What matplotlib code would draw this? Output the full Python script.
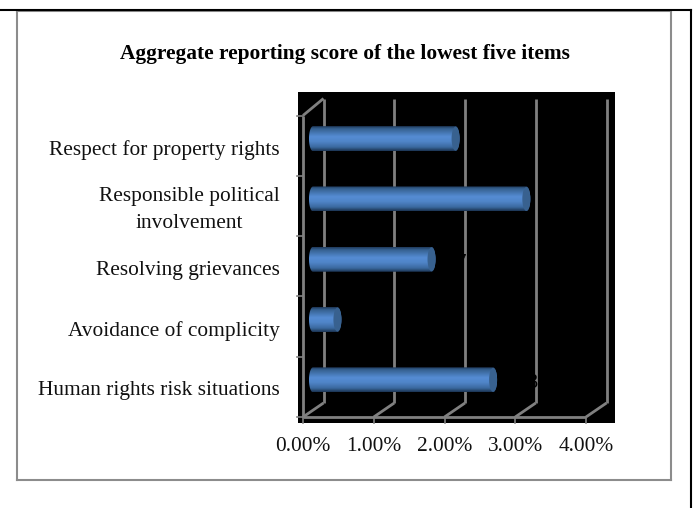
import numpy as np
import matplotlib
matplotlib.use("Agg")
import matplotlib.pyplot as plt
from matplotlib.colors import LinearSegmentedColormap
from matplotlib.lines import Line2D
from matplotlib.patches import Ellipse, PathPatch
from matplotlib.path import Path
from matplotlib.transforms import Affine2D

plt.rcParams["font.family"] = ["Liberation Serif", "DejaVu Serif"]

# Chart content
title = "Aggregate reporting score of the lowest five items"
categories = [
    "Human rights risk situations",
    "Avoidance of complicity",
    "Resolving grievances",
    "Responsible political\ninvolvement",
    "Respect for property rights",
]
scores = [2.63, 0.43, 1.76, 3.10, 2.10]
label_gaps = [4, None, 5, None, None]
value_ticks = [0, 1, 2, 3, 4]

W, H = 694, 508
GRID = "#808080"
PX_X = 70.75   # pixels per percentage point
PX_Y = 60.3    # pixels per category band
TEXT_SIZE = 15.4

fig = plt.figure(figsize=(W / 100, H / 100), dpi=100, facecolor="white")
L, R, T, B = 298, 615, 92, 423
ax = fig.add_axes([L / W, 1 - B / H, (R - L) / W, (B - T) / H], facecolor="black")
for s in ax.spines.values():
    s.set_visible(False)

xmin, xmax = (L - 303) / PX_X, (R - 303) / PX_X
ymin, ymax = -0.5 - (B - 417) / PX_Y, -0.5 + (417 - T) / PX_Y

# Pseudo-3D offsets from the front plane to the back wall
dx = 20.5 / PX_X
dy_floor = 14 / PX_Y
dy_top = 17 / PX_Y
top = len(categories) - 0.5
floor = -0.5
line = dict(color=GRID, lw=2.0, solid_capstyle="butt", zorder=1)

for v in value_ticks:
    ax.plot([v + dx, v + dx], [floor + dy_floor, top + dy_top], **line)
    ax.plot([v, v + dx], [floor, floor + dy_floor], **line)
ax.plot([value_ticks[0], value_ticks[-1]], [floor, floor], **line)
ax.plot([0, 0], [floor, top], **line)
ax.plot([0, dx], [top, top + dy_top], **line)

# Small tick marks on the front plane
tick_x = 6 / PX_X
tick_y = 6 / PX_Y
for y in np.arange(floor, top + 0.5):
    ax.plot([-tick_x, 0], [y, y], color=GRID, lw=1.2, zorder=1, clip_on=False)
for v in value_ticks:
    ax.plot([v, v], [floor - tick_y, floor], color=GRID, lw=1.2, zorder=1, clip_on=False)

# Horizontal cylinders
shade = LinearSegmentedColormap.from_list(
    "cylinder",
    [(0.0, "#1f3a5c"), (0.10, "#35608f"), (0.42, "#558cd4"),
     (0.62, "#5085c8"), (0.85, "#3a699f"), (1.0, "#1c3553")],
)
ramp = np.linspace(0, 1, 64).reshape(-1, 1)
half_h = 12.5 / PX_Y
cap_rx = 4.0 / PX_X
bar_start = 10 / PX_X
base_x = 4 / PX_X
shift_y = 7 / PX_Y
theta = np.linspace(np.pi / 2, -np.pi / 2, 30)

for i, v in enumerate(scores):
    yc = i + shift_y
    xe = v + base_x
    right = np.column_stack([xe + cap_rx * np.cos(theta), yc + half_h * np.sin(theta)])
    left = np.column_stack([bar_start - cap_rx * np.cos(theta), yc - half_h * np.sin(theta)])
    outline = np.vstack([right, left, right[:1]])
    body = ax.imshow(ramp, cmap=shade, aspect="auto", zorder=3, interpolation="bilinear",
                     extent=(bar_start - cap_rx, xe + cap_rx, yc - half_h, yc + half_h))
    body.set_clip_path(PathPatch(Path(outline), transform=ax.transData))
    ax.add_patch(Ellipse((xe, yc), 2 * cap_rx, 2 * half_h * 0.96,
                         facecolor="#38618f", edgecolor="none", zorder=4))
    # Black value labels only show where they cross a gridline
    if label_gaps[i] is not None:
        ax.text(xe + cap_rx + label_gaps[i] / PX_X, yc - 4 / PX_Y, f"{v:.2f}%", color="black",
                fontsize=TEXT_SIZE, va="center", ha="left", zorder=5)

ax.set_xlim(xmin, xmax)
ax.set_ylim(ymin, ymax)
ax.set_xticks(value_ticks)
ax.set_xticklabels([f"{v:.2f}%" for v in value_ticks], fontsize=TEXT_SIZE, color="#111111")
ax.set_yticks(np.arange(len(categories)) - 1.5 / PX_Y)
ax.set_yticklabels(categories, fontsize=TEXT_SIZE, color="#111111", ha="right",
                   multialignment="center", linespacing=1.6)
ax.tick_params(axis="x", length=0, pad=10)
ax.tick_params(axis="y", length=0, pad=13)

# The two-line category sits a little higher than its band centre
wrapped = ax.get_yticklabels()[3]
wrapped.set_transform(wrapped.get_transform() + Affine2D().translate(0, 4))

fig.text(344.5 / W, 1 - 54 / H, title, fontsize=TEXT_SIZE, fontweight="bold",
         ha="center", va="center", color="black")


def rule(x0, y0, x1, y1, color, lw):
    fig.add_artist(Line2D([x0 / W, x1 / W], [1 - y0 / H, 1 - y1 / H], color=color, lw=lw,
                          solid_capstyle="projecting"))


# Chart border and the surrounding page rules
rule(16.5, 10.5, 671, 10.5, "#8c8c8c", 1.5)
rule(16.5, 10.5, 16.5, 480, "#8c8c8c", 1.5)
rule(16.5, 480, 671, 480, "#8c8c8c", 1.5)
rule(671, 10.5, 671, 480, "#8c8c8c", 1.5)
rule(0, 9.5, 691, 9.5, "black", 1.5)
rule(691, 9.5, 691, 508, "black", 1.5)

fig.savefig("out.png", dpi=100)
